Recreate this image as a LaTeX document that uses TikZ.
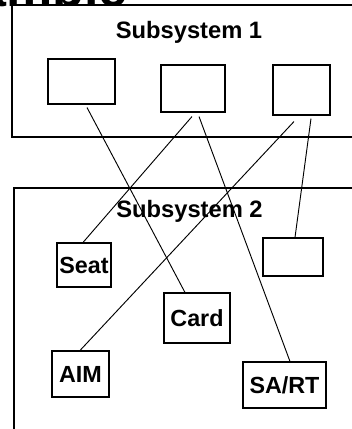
\documentclass[tikz,border=0pt]{standalone}
\usepackage{fontspec}
\setmainfont{Liberation Sans}
\begin{document}
\begin{tikzpicture}[x=0.75pt,y=-0.75pt,
  box/.style={draw=black,fill=white,line width=0.8pt,inner sep=0pt,align=center,font=\fontsize{17.5}{20}\selectfont\bfseries},
  frame/.style={draw=black,fill=white,line width=0.8pt,inner sep=0pt},
  lbl/.style={inner sep=0pt,font=\fontsize{17.8}{20}\selectfont\bfseries},
  link/.style={draw=black,line width=0.7pt}]
\useasboundingbox (0,0) rectangle (351,429);
% clipped title
\node[inner sep=0pt,anchor=base east,font=\fontsize{39}{44}\selectfont\bfseries] (title) at (128,6) {Example};
% subsystem frames
\node[frame,minimum width=348*0.75pt,minimum height=132*0.75pt] (sub1) at (186,71) {};
\node[lbl] (lab1) at (189,32) {Subsystem 1};
\node[frame,minimum width=346*0.75pt,minimum height=252*0.75pt] (sub2) at (187,314) {};
\node[lbl] (lab2) at (189.5,211) {Subsystem 2};
% boxes subsystem 1
\node[box,minimum width=67*0.75pt,minimum height=45*0.75pt] (A) at (81.5,81.5) {};
\node[box,minimum width=64*0.75pt,minimum height=47*0.75pt] (B) at (193,88.5) {};
\node[box,minimum width=57*0.75pt,minimum height=50*0.75pt] (C) at (301.5,90) {};
% boxes subsystem 2
\node[box,minimum width=60*0.75pt,minimum height=38*0.75pt] (D) at (293,257) {};
\node[box,minimum width=54*0.75pt,minimum height=44*0.75pt] (seat) at (84,265) {Seat};
\node[box,minimum width=66*0.75pt,minimum height=50*0.75pt] (card) at (197,318) {Card};
\node[box,minimum width=57*0.75pt,minimum height=46*0.75pt] (aim) at (80.5,374) {AIM};
\node[box,minimum width=83*0.75pt,minimum height=46*0.75pt] (sart) at (284.5,385) {SA/RT};
% links
\draw[link] ([xshift=5.5*0.75pt,yshift=-3*0.75pt]A.south) -- ([xshift=-12*0.75pt]card.north);
\draw[link] ([xshift=-1*0.75pt,yshift=-4*0.75pt]B.south) -- ([xshift=-1*0.75pt]seat.north);
\draw[link] ([xshift=6*0.75pt,yshift=-4*0.75pt]B.south) -- ([xshift=5.5*0.75pt]sart.north);
\draw[link] ([xshift=-7.5*0.75pt,yshift=-6*0.75pt]C.south) -- ([xshift=-0.5*0.75pt]aim.north);
\draw[link] ([xshift=9.5*0.75pt,yshift=-3*0.75pt]C.south) -- ([xshift=2*0.75pt]D.north);
\end{tikzpicture}
\end{document}
